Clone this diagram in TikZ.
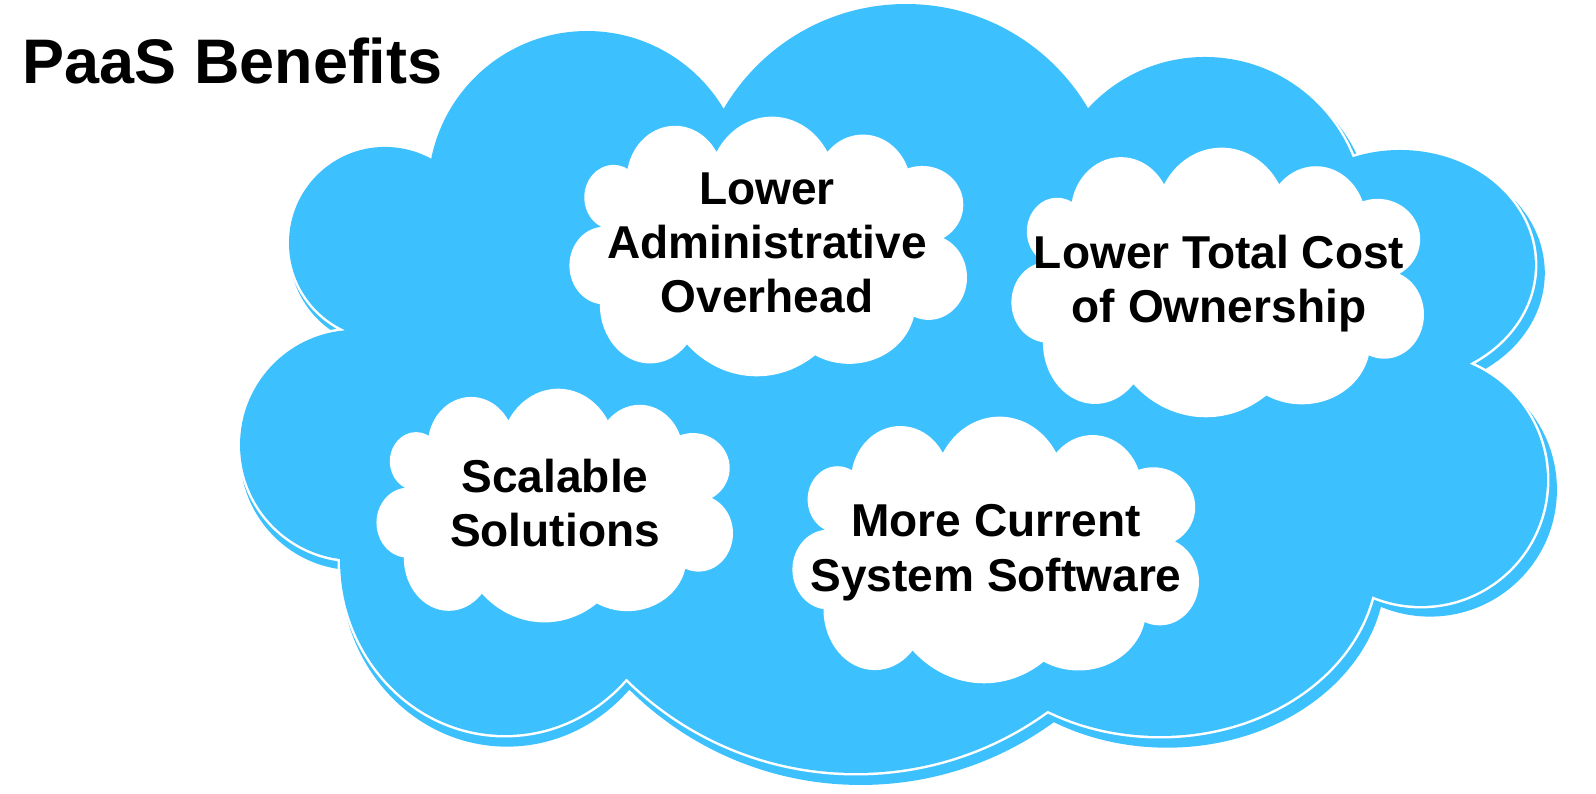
\documentclass[tikz,border=0pt]{standalone}
\usepackage{fontspec}
\setmainfont{Liberation Sans}
\usetikzlibrary{positioning}
\definecolor{skyblue}{RGB}{60,193,254}

% lobes and core of one cloud, in a unit box (y down)
\newcommand{\cloudlobes}{%
  (0.1096,0.309) ellipse [x radius=0.0736, y radius=0.1247]
  (0.2644,0.2403) ellipse [x radius=0.1218, y radius=0.2065]
  (0.5088,0.2727) ellipse [x radius=0.1617, y radius=0.274]
  (0.7379,0.274) ellipse [x radius=0.1218, y radius=0.2065]
  (0.8874,0.3377) ellipse [x radius=0.1034, y radius=0.1494]
  (0.9034,0.6169) ellipse [x radius=0.0966, y radius=0.1636]
  (0.7034,0.7208) ellipse [x radius=0.1663, y radius=0.2286]
  (0.4705,0.574) ellipse [x radius=0.2498, y radius=0.4234]
  (0.2015,0.7208) ellipse [x radius=0.1264, y radius=0.2273]
  (0.0866,0.5714) ellipse [x radius=0.0881, y radius=0.1494]}
\newcommand{\cloudcore}{(0.16,0.22) -- (0.372,0.16) -- (0.649,0.16) -- (0.84,0.22) -- (0.92,0.465) -- (0.85,0.75) -- (0.615,0.89) -- (0.31,0.86) -- (0.1,0.70) -- (0.1,0.43) -- cycle}

\begin{document}
\begin{tikzpicture}[x=0.01cm,y=-0.01cm,
  benefit/.style={font=\fontsize{13.1}{15.4}\selectfont\bfseries,align=center,inner sep=0pt},
  heading/.style={font=\fontsize{17.9}{21}\selectfont\bfseries,inner sep=0pt}]
  \useasboundingbox (0,0) rectangle (1596,794);

  % shadow of the big cloud
  \begin{scope}[shift={(242,11)},xscale=1315,yscale=776]
    \fill[skyblue] \cloudlobes;
    \fill[skyblue] \cloudcore;
  \end{scope}

  % big cloud with white rim
  \begin{scope}[shift={(242,5)},xscale=1305,yscale=770]
    \draw[white,line width=0.05cm] \cloudlobes;
    \fill[skyblue] \cloudlobes;
    \fill[skyblue] \cloudcore;
  \end{scope}

  % white clouds
  \begin{scope}[shift={(570,117)},xscale=397,yscale=260]
    \fill[white] \cloudlobes;
    \fill[white] \cloudcore;
  \end{scope}
  \begin{scope}[shift={(1012,148)},xscale=412,yscale=270]
    \fill[white] \cloudlobes;
    \fill[white] \cloudcore;
  \end{scope}
  \begin{scope}[shift={(377,389)},xscale=356,yscale=234]
    \fill[white] \cloudlobes;
    \fill[white] \cloudcore;
  \end{scope}
  \begin{scope}[shift={(793,417)},xscale=406,yscale=267]
    \fill[white] \cloudlobes;
    \fill[white] \cloudcore;
  \end{scope}

  \node[heading,anchor=base west] (title) at (22,84) {PaaS Benefits};

  % base anchor sits on the last line
  \node[benefit,anchor=base] (admin) at (767,313) {Lower\\Administrative\\Overhead};
  \node[benefit,anchor=base] (cost) at (1219,323) {Lower Total Cost\\of Ownership};
  \node[benefit,anchor=base] (scalable) at (555,547) {Scalable\\Solutions};
  \node[benefit,anchor=base] (current) at (996,591) {More Current\\System Software};
\end{tikzpicture}
\end{document}
